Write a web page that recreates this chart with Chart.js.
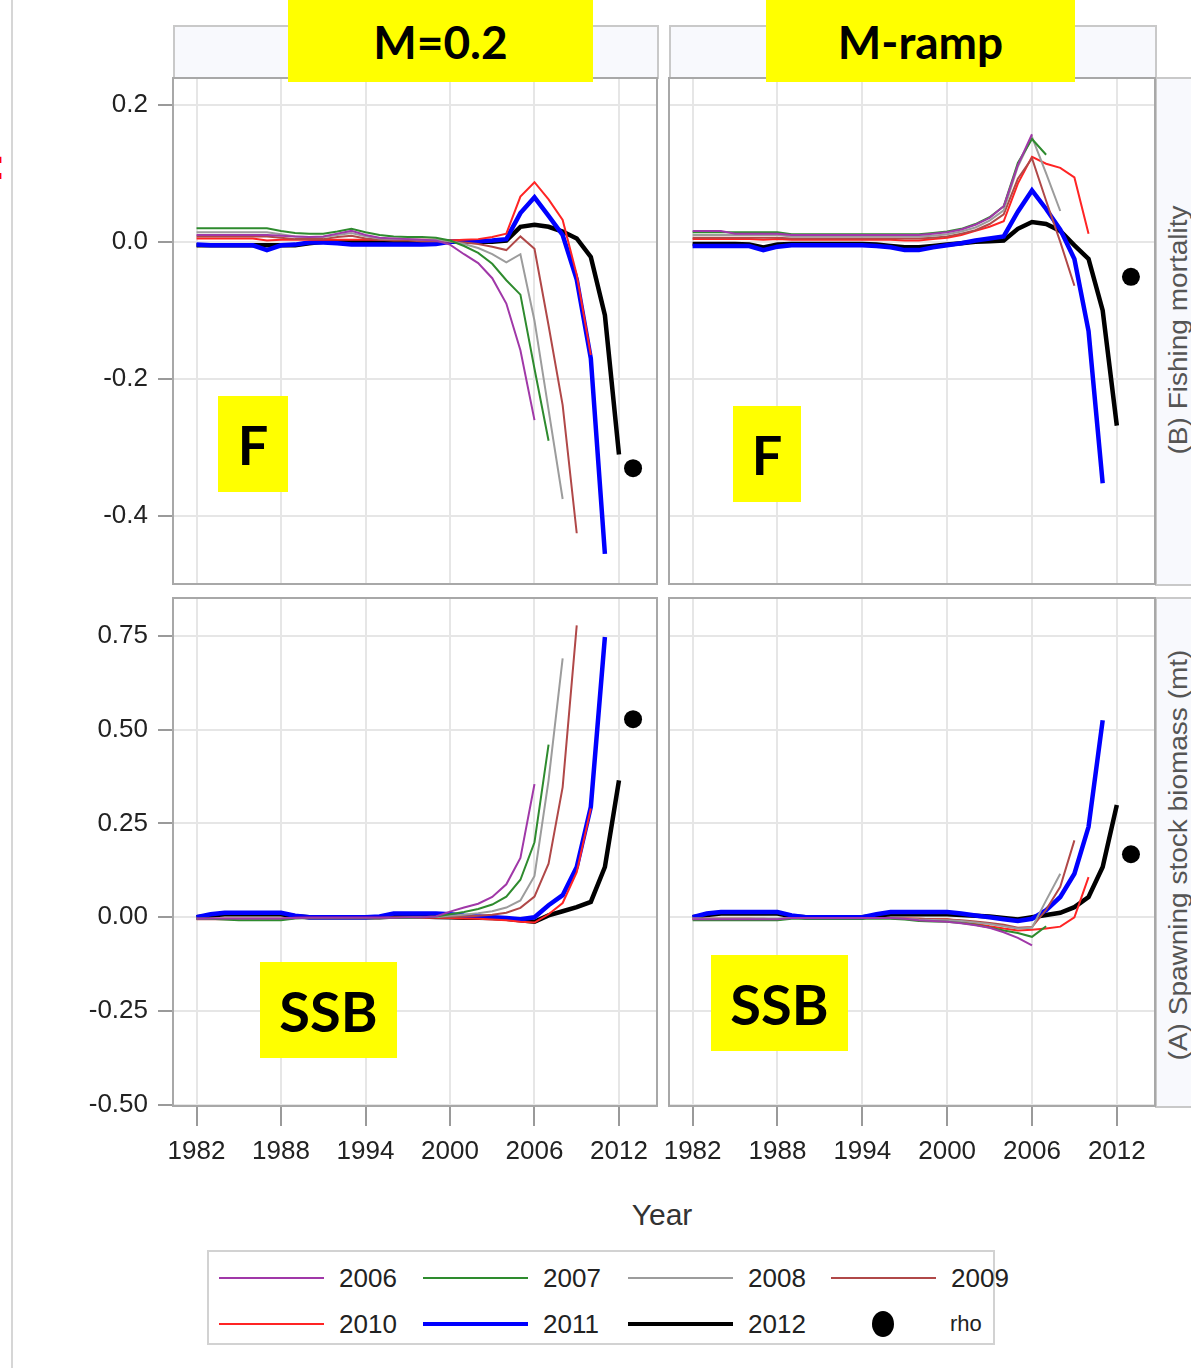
<!DOCTYPE html>
<html>
<head>
<meta charset="utf-8">
<script src="https://cdn.jsdelivr.net/npm/chart.js@4.4.0/dist/chart.umd.min.js"></script>
<style>
  body { margin: 0; background: #fff; width: 1191px; height: 1368px; overflow: hidden; position: relative;
         font-family: "Liberation Sans", Arial, sans-serif; }
  canvas { position: absolute; }
  .frame-out { position: absolute; left: 11px; top: -2px; width: 1300px; height: 1400px; border: 2px solid #d6d6d6; }
  .strip { position: absolute; background: #f8f9fd; border: 2px solid #c9c9c9; box-sizing: border-box; }
  .striptxt { position: absolute; width: 600px; height: 30px; line-height: 30px; text-align: center;
              font-size: 25px; color: #555; transform: rotate(-90deg) scaleX(1.12); }
  .yel { position: absolute; background: #ffff00; display: flex; align-items: center; justify-content: center;
         font-family: Lato, "Open Sans", sans-serif; font-weight: 700; color: #000; z-index: 5; }
  .legend { position: absolute; left: 207px; top: 1250px; width: 788px; height: 95px; border: 2px solid #d2d2d2; box-sizing: border-box; }
  .lgline { position: absolute; width: 105px; }
  .lgtxt { position: absolute; font-size: 26px; color: #222; line-height: 30px; }
  .ylab { position: absolute; left: 612px; top: 1198px; width: 100px; text-align: center; font-size: 30px; color: #333; }
</style>
</head>
<body>
<div class="frame-out"></div>
<div style="position:absolute;left:-9px;top:142px;color:#ff0000;font-size:44px;font-weight:bold;line-height:44px">:</div>

<div class="strip" style="left:173px;top:25px;width:486px;height:54px"></div>
<div class="strip" style="left:669px;top:25px;width:488px;height:54px"></div>
<div class="strip" style="left:1155px;top:77px;width:50px;height:509px"></div>
<div class="strip" style="left:1155px;top:597px;width:50px;height:511px"></div>
<div class="striptxt" style="left:878px;top:315px">(B) Fishing mortality</div>
<div class="striptxt" style="left:878px;top:840px">(A) Spawning stock biomass (mt)</div>

<canvas id="cF02" width="660" height="508" style="left:0;top:77px;width:660px;height:508px"></canvas>
<canvas id="cFr" width="518" height="508" style="left:640px;top:77px;width:518px;height:508px"></canvas>
<canvas id="cS02" width="660" height="600" style="left:0;top:597px;width:660px;height:600px"></canvas>
<canvas id="cSr" width="518" height="600" style="left:640px;top:597px;width:518px;height:600px"></canvas>

<div class="yel" style="left:288px;top:0;width:305px;height:82px;font-size:46px">M=0.2</div>
<div class="yel" style="left:766px;top:0;width:309px;height:82px;font-size:46px">M-ramp</div>
<div class="yel" style="left:218px;top:396px;width:70px;height:96px;font-size:54px">F</div>
<div class="yel" style="left:733px;top:406px;width:68px;height:96px;font-size:54px">F</div>
<div class="yel" style="left:260px;top:962px;width:137px;height:96px;font-size:56px">SSB</div>
<div class="yel" style="left:711px;top:955px;width:137px;height:96px;font-size:56px">SSB</div>

<div class="ylab">Year</div>
<div class="legend" id="legend"></div>

<script>
// retrospective peels: relative difference by year, one array per terminal year
const years = [1982, 1983, 1984, 1985, 1986, 1987, 1988, 1989, 1990, 1991, 1992, 1993, 1994, 1995, 1996,
  1997, 1998, 1999, 2000, 2001, 2002, 2003, 2004, 2005, 2006, 2007, 2008, 2009, 2010, 2011, 2012];
const peelYears = ['2006', '2007', '2008', '2009', '2010', '2011', '2012'];
const peelColors = ['#a038a8', '#2e8b2e', '#9c9c9c', '#b04848', '#ff2424', '#0000ff', '#000000'];
const peelWidths = [2, 2, 2, 2, 2, 4.5, 4.5];
const yearTicks = [1982, 1988, 1994, 2000, 2006, 2012];
const fTicks = [-0.4, -0.2, 0, 0.2];
const ssbTicks = [-0.5, -0.25, 0, 0.25, 0.5, 0.75];
const rhoYear = 2013;

// F, M=0.2
const f02_2006 = [0.010, 0.010, 0.010, 0.010, 0.010, 0.010, 0.009, 0.008, 0.007, 0.008, 0.012, 0.016, 0.010, 0.006,
  0.005, 0.004, 0.003, 0.002, -0.004, -0.018, -0.031, -0.053, -0.090, -0.158, -0.260];
const f02_2007 = [0.020, 0.020, 0.020, 0.020, 0.020, 0.020, 0.016, 0.013, 0.012, 0.012, 0.015, 0.019, 0.014, 0.010,
  0.008, 0.007, 0.007, 0.006, 0.002, -0.006, -0.016, -0.032, -0.056, -0.077, -0.185, -0.290];
const f02_2008 = [0.014, 0.014, 0.014, 0.014, 0.014, 0.014, 0.011, 0.008, 0.007, 0.007, 0.010, 0.013, 0.008, 0.005,
  0.004, 0.004, 0.003, 0.003, 0.001, -0.003, -0.009, -0.018, -0.030, -0.018, -0.115, -0.245, -0.375];
const f02_2009 = [0.008, 0.008, 0.008, 0.008, 0.008, 0.008, 0.006, 0.004, 0.004, 0.004, 0.007, 0.009, 0.005, 0.003,
  0.002, 0.002, 0.001, 0.001, 0.000, -0.001, -0.003, -0.007, -0.012, 0.008, -0.010, -0.122, -0.238, -0.425];
const f02_2010 = [0.005, 0.005, 0.005, 0.005, 0.005, 0.002, 0.003, 0.003, 0.003, 0.003, 0.003, 0.003, 0.003, 0.003,
  0.003, 0.003, 0.003, 0.003, 0.002, 0.003, 0.004, 0.007, 0.012, 0.066, 0.087, 0.062, 0.032, -0.048, -0.165];
const f02_2011 = [-0.004, -0.005, -0.005, -0.005, -0.005, -0.012, -0.005, -0.004, -0.001, -0.001, -0.002, -0.004, -0.004, -0.004,
  -0.004, -0.004, -0.004, -0.003, 0.000, 0.001, 0.001, 0.002, 0.004, 0.042, 0.065, 0.038, 0.010, -0.055, -0.170, -0.455];
const f02_2012 = [-0.005, -0.005, -0.005, -0.005, -0.005, -0.005, -0.005, -0.005, -0.002, 0.000, 0.000, 0.000, 0.000, 0.000,
  0.000, 0.000, 0.000, 0.000, 0.000, 0.000, 0.000, 0.000, 0.002, 0.022, 0.025, 0.022, 0.015, 0.005, -0.022, -0.107, -0.310];
const rhoF02 = -0.33;

// F, M-ramp
const fr_2006 = [0.016, 0.016, 0.016, 0.012, 0.012, 0.012, 0.012, 0.010, 0.010, 0.010, 0.010, 0.010, 0.010, 0.010,
  0.010, 0.010, 0.010, 0.012, 0.014, 0.018, 0.025, 0.035, 0.052, 0.112, 0.157];
const fr_2007 = [0.014, 0.014, 0.014, 0.014, 0.014, 0.014, 0.014, 0.011, 0.011, 0.011, 0.011, 0.011, 0.011, 0.011,
  0.011, 0.011, 0.011, 0.013, 0.015, 0.019, 0.026, 0.036, 0.052, 0.115, 0.150, 0.127];
const fr_2008 = [0.010, 0.010, 0.010, 0.010, 0.010, 0.010, 0.010, 0.008, 0.008, 0.008, 0.008, 0.008, 0.008, 0.008,
  0.008, 0.008, 0.008, 0.009, 0.011, 0.015, 0.021, 0.031, 0.046, 0.110, 0.153, 0.100, 0.045];
const fr_2009 = [0.006, 0.006, 0.006, 0.006, 0.006, 0.006, 0.006, 0.005, 0.005, 0.005, 0.005, 0.005, 0.005, 0.005,
  0.005, 0.005, 0.005, 0.006, 0.008, 0.012, 0.017, 0.026, 0.040, 0.092, 0.122, 0.060, 0.000, -0.064];
const fr_2010 = [0.004, 0.004, 0.004, 0.004, 0.004, 0.003, 0.004, 0.003, 0.003, 0.003, 0.003, 0.003, 0.003, 0.003,
  0.003, 0.002, 0.002, 0.004, 0.006, 0.010, 0.016, 0.022, 0.030, 0.085, 0.124, 0.114, 0.108, 0.094, 0.012];
const fr_2011 = [-0.006, -0.006, -0.006, -0.006, -0.006, -0.012, -0.007, -0.005, -0.005, -0.005, -0.005, -0.005, -0.005, -0.006,
  -0.008, -0.012, -0.012, -0.008, -0.005, -0.002, 0.002, 0.005, 0.008, 0.044, 0.075, 0.048, 0.018, -0.025, -0.130, -0.352];
const fr_2012 = [-0.003, -0.003, -0.003, -0.003, -0.004, -0.008, -0.004, -0.003, -0.003, -0.003, -0.003, -0.003, -0.003, -0.004,
  -0.006, -0.008, -0.008, -0.006, -0.004, -0.002, 0.000, 0.001, 0.002, 0.019, 0.029, 0.026, 0.016, -0.005, -0.025, -0.100, -0.268];
const rhoFr = -0.051;

// SSB, M=0.2
const s02_2006 = [-0.004, -0.003, -0.003, -0.003, -0.003, -0.003, -0.003, -0.002, -0.001, -0.001, -0.001, -0.001, -0.001, -0.001,
  -0.001, 0.000, 0.000, 0.002, 0.015, 0.026, 0.036, 0.054, 0.088, 0.158, 0.355];
const s02_2007 = [-0.004, -0.004, -0.006, -0.008, -0.008, -0.008, -0.008, -0.003, -0.002, -0.002, -0.002, -0.002, -0.002, -0.002,
  -0.002, -0.001, 0.000, 0.002, 0.008, 0.014, 0.022, 0.034, 0.055, 0.100, 0.200, 0.460];
const s02_2008 = [-0.004, -0.004, -0.004, -0.004, -0.004, -0.004, -0.004, -0.002, -0.002, -0.002, -0.002, -0.002, -0.002, -0.002,
  -0.001, -0.001, 0.000, 0.001, 0.004, 0.007, 0.011, 0.016, 0.026, 0.045, 0.110, 0.365, 0.690];
const s02_2009 = [-0.005, -0.005, -0.005, -0.005, -0.005, -0.005, -0.005, -0.002, -0.002, -0.002, -0.002, -0.002, -0.002, -0.002,
  -0.001, -0.001, 0.000, 0.000, 0.000, 0.002, 0.004, 0.007, 0.012, 0.025, 0.055, 0.143, 0.347, 0.778];
const s02_2010 = [-0.004, -0.004, -0.004, -0.004, -0.004, -0.004, -0.004, -0.001, -0.001, -0.001, -0.001, -0.001, -0.001, -0.001,
  -0.001, -0.001, -0.001, -0.001, -0.002, -0.003, -0.004, -0.006, -0.008, -0.012, -0.014, 0.008, 0.038, 0.120, 0.290];
const s02_2011 = [0.000, 0.008, 0.012, 0.012, 0.012, 0.012, 0.012, 0.004, 0.000, 0.000, 0.000, 0.000, 0.000, 0.002,
  0.010, 0.010, 0.010, 0.010, 0.008, 0.004, 0.002, 0.000, -0.002, -0.005, 0.000, 0.032, 0.059, 0.134, 0.294, 0.747];
const s02_2012 = [0.000, 0.005, 0.008, 0.008, 0.008, 0.008, 0.008, 0.003, 0.000, 0.000, 0.000, 0.000, 0.000, 0.000,
  0.002, 0.002, 0.002, 0.001, 0.000, -0.001, -0.001, -0.002, -0.004, -0.008, -0.012, 0.005, 0.016, 0.027, 0.041, 0.134, 0.365];
const rhoS02 = 0.528;

// SSB, M-ramp
const sr_2006 = [-0.005, -0.005, -0.005, -0.005, -0.005, -0.005, -0.005, -0.002, -0.002, -0.002, -0.002, -0.002, -0.002, -0.002,
  -0.002, -0.004, -0.008, -0.010, -0.012, -0.016, -0.021, -0.028, -0.040, -0.055, -0.075];
const sr_2007 = [-0.008, -0.008, -0.008, -0.008, -0.008, -0.008, -0.008, -0.004, -0.004, -0.004, -0.004, -0.004, -0.004, -0.004,
  -0.004, -0.006, -0.010, -0.011, -0.012, -0.015, -0.020, -0.027, -0.035, -0.042, -0.052, -0.024];
const sr_2008 = [-0.003, -0.003, -0.003, -0.003, -0.003, -0.003, -0.003, -0.002, -0.002, -0.002, -0.002, -0.002, -0.002, -0.002,
  -0.002, -0.004, -0.006, -0.007, -0.008, -0.010, -0.014, -0.018, -0.024, -0.030, -0.028, 0.045, 0.116];
const sr_2009 = [-0.004, -0.004, -0.004, -0.004, -0.004, -0.004, -0.006, -0.002, -0.002, -0.002, -0.002, -0.002, -0.002, -0.002,
  -0.002, -0.003, -0.004, -0.005, -0.006, -0.008, -0.011, -0.015, -0.020, -0.028, -0.026, 0.020, 0.081, 0.205];
const sr_2010 = [-0.004, -0.004, -0.004, -0.004, -0.004, -0.005, -0.006, -0.002, -0.002, -0.002, -0.002, -0.002, -0.002, -0.002,
  -0.002, -0.003, -0.004, -0.005, -0.005, -0.010, -0.017, -0.024, -0.030, -0.035, -0.033, -0.030, -0.025, 0.000, 0.107];
const sr_2011 = [0.000, 0.010, 0.014, 0.014, 0.014, 0.014, 0.014, 0.005, 0.000, 0.000, 0.000, 0.000, 0.000, 0.008,
  0.014, 0.014, 0.014, 0.014, 0.014, 0.010, 0.005, 0.000, -0.005, -0.010, -0.004, 0.019, 0.054, 0.116, 0.241, 0.525];
const sr_2012 = [0.000, 0.006, 0.010, 0.010, 0.010, 0.010, 0.010, 0.003, 0.000, 0.000, 0.000, 0.000, 0.000, 0.005,
  0.008, 0.008, 0.008, 0.008, 0.008, 0.006, 0.004, 0.002, -0.002, -0.006, 0.000, 0.006, 0.012, 0.027, 0.054, 0.134, 0.299];
const rhoSr = 0.168;

const tickFont = { family: '"Liberation Sans", Arial, sans-serif', size: 26 };

// grey box round the plot area
const framePlugin = {
  id: 'frame',
  afterDraw(chart) {
    const { ctx, chartArea: a } = chart;
    ctx.save();
    ctx.strokeStyle = '#a8a8a8';
    ctx.lineWidth = 2;
    ctx.strokeRect(a.left - 1, a.top, a.right - a.left + 1, a.bottom - a.top);
    ctx.restore();
  }
};

// keep the plot box at a fixed size: no extra room for label overhang
function noPad(s) {
  s.paddingTop = 0;
  s.paddingBottom = 0;
  s.paddingLeft = 0;
  s.paddingRight = 0;
}

function makePanel(canvasId, series, rho, opts) {
  const datasets = series.map((vals, i) => ({
    label: peelYears[i],
    data: vals.map((v, j) => ({ x: years[j], y: v })),
    borderColor: peelColors[i],
    borderWidth: peelWidths[i],
    pointRadius: 0,
    tension: 0,
    fill: false
  }));
  datasets.push({
    label: 'rho',
    data: [{ x: rhoYear, y: rho }],
    showLine: false,
    pointRadius: 9,
    pointBackgroundColor: '#000',
    pointBorderWidth: 0
  });

  new Chart(document.getElementById(canvasId), {
    type: 'line',
    data: { datasets },
    options: {
      responsive: false,
      animation: false,
      layout: { autoPadding: false, padding: { top: 1, right: 3, bottom: 0, left: 0 } },
      plugins: { legend: { display: false }, tooltip: { enabled: false } },
      scales: {
        x: {
          type: 'linear',
          min: 1980.4,
          max: 2014.7,
          afterBuildTicks: s => { s.ticks = yearTicks.map(v => ({ value: v })); },
          afterFit: s => { s.height = opts.xHeight; noPad(s); },
          border: { display: false },
          grid: { color: '#e6e6e6', lineWidth: 2, tickLength: opts.xLabels ? 20 : 0, tickColor: '#9a9a9a' },
          ticks: {
            display: opts.xLabels,
            autoSkip: false,
            maxRotation: 0,
            padding: 10,
            color: '#222',
            font: tickFont,
            callback: v => String(v)
          }
        },
        y: {
          min: opts.yMin,
          max: opts.yMax,
          afterBuildTicks: s => { s.ticks = opts.yTicks.map(v => ({ value: v })); },
          afterFit: s => { s.width = opts.yWidth; noPad(s); },
          border: { display: false },
          grid: { color: '#e6e6e6', lineWidth: 2, tickLength: opts.yLabels ? 16 : 0, tickColor: '#9a9a9a' },
          ticks: {
            display: opts.yLabels,
            padding: 10,
            color: '#222',
            font: tickFont,
            callback: v => v.toFixed(opts.digits)
          }
        }
      }
    },
    plugins: [framePlugin]
  });
}

const fOpts = { yMin: -0.499, yMax: 0.239, yTicks: fTicks, digits: 1, xLabels: false, xHeight: 1 };
const sOpts = { yMin: -0.503, yMax: 0.851, yTicks: ssbTicks, digits: 2, xLabels: true, xHeight: 91 };

makePanel('cF02', [f02_2006, f02_2007, f02_2008, f02_2009, f02_2010, f02_2011, f02_2012], rhoF02,
  Object.assign({}, fOpts, { yLabels: true, yWidth: 174 }));
makePanel('cFr', [fr_2006, fr_2007, fr_2008, fr_2009, fr_2010, fr_2011, fr_2012], rhoFr,
  Object.assign({}, fOpts, { yLabels: false, yWidth: 30 }));
makePanel('cS02', [s02_2006, s02_2007, s02_2008, s02_2009, s02_2010, s02_2011, s02_2012], rhoS02,
  Object.assign({}, sOpts, { yLabels: true, yWidth: 174 }));
makePanel('cSr', [sr_2006, sr_2007, sr_2008, sr_2009, sr_2010, sr_2011, sr_2012], rhoSr,
  Object.assign({}, sOpts, { yLabels: false, yWidth: 30 }));

// legend, 4 columns x 2 rows
const legend = document.getElementById('legend');
const colX = [10, 214, 419, 622];
const rowY = [26, 72];
peelYears.forEach((yr, i) => {
  const col = i % 4, row = Math.floor(i / 4);
  const line = document.createElement('div');
  line.className = 'lgline';
  line.style.left = colX[col] + 'px';
  line.style.height = peelWidths[i] + 'px';
  line.style.top = (rowY[row] - peelWidths[i] / 2) + 'px';
  line.style.background = peelColors[i];
  legend.appendChild(line);
  const txt = document.createElement('div');
  txt.className = 'lgtxt';
  txt.textContent = yr;
  txt.style.left = (colX[col] + 120) + 'px';
  txt.style.top = (rowY[row] - 15) + 'px';
  legend.appendChild(txt);
});
const dot = document.createElement('div');
dot.style.cssText = 'position:absolute;left:663px;top:59px;width:22px;height:26px;border-radius:50%;background:#000';
legend.appendChild(dot);
const rhoTxt = document.createElement('div');
rhoTxt.className = 'lgtxt';
rhoTxt.style.fontSize = '22px';
rhoTxt.textContent = 'rho';
rhoTxt.style.left = '741px';
rhoTxt.style.top = '57px';
legend.appendChild(rhoTxt);
</script>
</body>
</html>
